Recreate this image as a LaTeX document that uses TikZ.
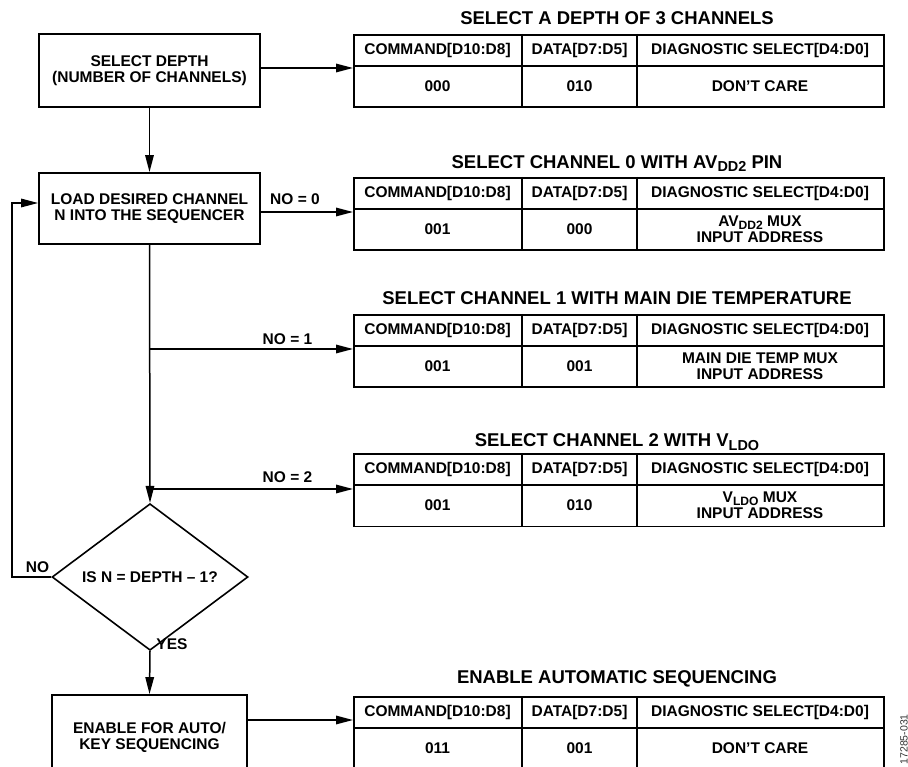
\documentclass[tikz,border=0pt]{standalone}
\usepackage{fontspec}
\setmainfont{Liberation Sans}
\usetikzlibrary{arrows.meta,shapes.geometric,calc}
\newcommand\lsub[1]{\raisebox{-0.35ex}{\scalebox{0.78}{#1}}}
\newcommand\dtable[7]{%
  \draw[gridline] (353,#2+32) -- (883,#2+32);
  \draw[gridline] (522,#2) -- (522,#2+72.5);
  \draw[gridline] (637,#2) -- (637,#2+72.5);
  \node[tblbox, anchor=north west] (#1) at (353,#2) {};
  \node[tbltitle, anchor=base] (#1t) at (617,#3) {#4};
  \node[cell] (#1h1) at (437.5,#2+16) {COMMAND[D10:D8]};
  \node[cell] (#1h2) at (579.5,#2+16) {DATA[D7:D5]};
  \node[cell] (#1h3) at (760,#2+16) {DIAGNOSTIC SELECT[D4:D0]};
  \node[cell] (#1d1) at (437.5,#2+52.25) {#5};
  \node[cell] (#1d2) at (579.5,#2+52.25) {#6};
  \node[cell] (#1d3) at (760,#2+52.25) {#7};
}
\begin{document}
\begin{tikzpicture}[x=1pt,y=-1pt,
  base/.style={font=\fontsize{15.5}{16.5}\selectfont\bfseries, inner sep=0pt, align=center},
  procbox/.style={base, draw, line width=1.8pt, minimum width=221pt, minimum height=73pt},
  tblbox/.style={draw, line width=1.8pt, minimum width=530pt, minimum height=72.5pt, inner sep=0pt},
  gridline/.style={line width=1.1pt},
  tbltitle/.style={font=\fontsize{18.5}{20}\selectfont\bfseries, inner sep=0pt},
  cell/.style={base, font=\fontsize{15.5}{16}\selectfont\bfseries},
  lbl/.style={base},
  arr/.style={line width=1.5pt, -{Triangle[length=17pt,width=8.5pt]}},
  ln/.style={line width=1.5pt}
]
\clip (0,0) rectangle (908,767);
\useasboundingbox (0,0) rectangle (908,767);

% process boxes
\node[procbox] (box1) at (149.5,70.5) {SELECT DEPTH\\(NUMBER OF CHANNELS)};
\node[procbox, minimum height=71pt] (box2) at (149.5,208.5) {LOAD DESIRED CHANNEL\\N INTO THE SEQUENCER};
\node[procbox, minimum width=195pt, minimum height=82pt, text depth=0pt] (box3) at (149.5,736) {ENABLE FOR AUTO/\\KEY SEQUENCING};
\node[base, shape=diamond, draw, line width=1.6pt, minimum width=196pt, minimum height=112pt] (dec) at (150,577) {IS N = DEPTH – 1?};

% tables
\dtable{t1}{34}{25}{SELECT A DEPTH OF 3 CHANNELS}{000}{010}{DON’T CARE}
\dtable{t2}{177}{168.3}{SELECT CHANNEL 0 WITH AV\lsub{DD2} PIN}{001}{000}{AV\lsub{DD2} MUX\\INPUT ADDRESS}
\dtable{t3}{314}{305}{SELECT CHANNEL 1 WITH MAIN DIE TEMPERATURE}{001}{001}{MAIN DIE TEMP MUX\\INPUT ADDRESS}
\dtable{t4}{453}{446.7}{SELECT CHANNEL 2 WITH V\lsub{LDO}}{001}{010}{V\lsub{LDO} MUX\\INPUT ADDRESS}
\dtable{t5}{696}{683.3}{ENABLE AUTOMATIC SEQUENCING}{011}{001}{DON’T CARE}

% helper coordinates
\coordinate (y68) at (0,68);
\coordinate (y212) at (0,212);
\coordinate (y720) at (0,720);
\coordinate (br1) at (149.5,349);
\coordinate (br2) at (149.5,489);
\coordinate (fbtop) at (12,203);

% connectors
\draw[arr] (box1.south) -- (box2.north);
\draw[arr] (box2.south) -- (dec.north);
\draw[arr] (dec.south) -- (box3.north);
\draw[arr] (box1.east |- y68) -- (t1.west |- y68);
\draw[arr] (box2.east |- y212) -- (t2.west |- y212);
\draw[arr] (br1) -- (t3.west |- br1);
\draw[arr] (br2) -- (t4.west |- br2);
\draw[arr] (box3.east |- y720) -- (t5.west |- y720);
\draw[arr] (dec.west) -- (dec.west -| fbtop) -- (fbtop) -- (box2.west |- fbtop);

% labels
\node[lbl] (l0) at (295,199) {NO = 0};
\node[lbl] (l1) at (287.5,339) {NO = 1};
\node[lbl] (l2) at (287.5,477) {NO = 2};
\node[lbl] (lno) at (37.5,567) {NO};
\node[lbl] (lyes) at (172,644) {YES};

\node[font=\fontsize{10.5}{12}\selectfont, rotate=90, anchor=east, inner sep=0pt, text=black!80] (figid) at (904,714) {17285-031};
\end{tikzpicture}
\end{document}
